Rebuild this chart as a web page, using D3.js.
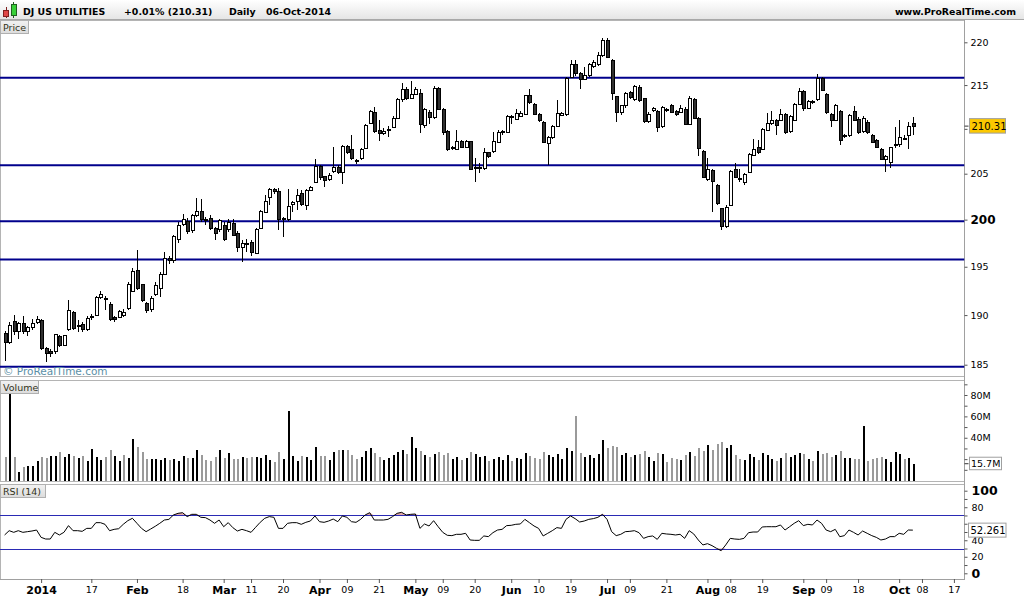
<!DOCTYPE html>
<html><head><meta charset="utf-8">
<script src="https://cdn.jsdelivr.net/npm/d3@7/dist/d3.min.js"></script>
<style>
body{margin:0;background:#fff;}
svg{display:block;font-family:"DejaVu Sans",Verdana,sans-serif;}
</style></head><body>
<svg id="c" width="1024" height="600"></svg>
<script>
// ---------------- DATA ----------------
const openP=[188.1,187.2,189.3,188.3,189.1,188.3,188.7,189.2,189.4,186.6,
186.3,186.3,187.8,186.9,188.5,190.3,188.9,189.0,188.5,189.8,
190.0,191.85,191.75,191.1,189.8,189.75,190.0,190.7,192.45,194.65,
193.1,191.2,190.55,192.15,192.75,194.2,195.9,195.7,197.85,199.5,
199.8,198.8,200.45,200.9,200.05,200.1,199.0,198.9,199.4,198.9,
199.6,198.55,197.05,197.5,197.55,196.4,199.05,200.8,202.4,203.3,
203.1,200.0,200.05,201.65,201.95,202.85,201.55,203.2,204.05,205.8,
204.65,204.4,205.25,205.7,205.15,208.0,207.65,206.5,206.65,207.75,
210.6,211.9,209.85,209.5,209.95,210.15,211.2,213.35,214.5,213.45,
213.95,214.05,210.35,211.9,211.3,214.55,212.2,209.7,207.95,207.7,
208.6,207.95,208.55,205.6,205.7,205.6,207.3,207.45,208.45,209.7,
209.6,211.35,211.1,211.45,211.65,213.8,212.8,211.65,210.75,208.3,
209.05,210.3,211.55,211.6,215.85,217.4,216.35,215.7,216.1,217.15,
217.35,218.4,220.25,217.9,213.65,211.8,212.6,214.15,213.35,214.75,
213.4,210.8,212.1,212.0,210.25,212.2,212.6,211.95,211.9,212.25,
210.5,213.3,211.2,207.5,204.35,205.4,203.75,201.2,199.3,201.55,
205.5,204.45,204.05,205.15,207.05,207.95,207.7,209.85,210.55,210.95,
210.95,211.65,209.7,210.95,212.8,214.3,212.35,213.0,213.35,215.8,
213.95,211.65,210.95,211.95,209.1,209.2,211.95,211.1,209.65,210.75,
209.3,208.7,207.7,206.6,206.2,208.1,208.2,208.9,209.3,210.6];
const highP=[188.4,189.3,190.0,189.3,189.9,188.9,189.6,189.9,189.6,186.8,
186.6,188.1,188.0,188.0,191.55,190.4,189.45,189.3,189.9,190.1,
192.0,192.5,192.0,191.3,189.9,190.5,190.6,193.4,194.9,196.8,
193.2,191.3,191.95,193.4,194.45,196.55,196.1,198.35,199.75,200.6,
200.2,200.6,202.35,202.2,200.3,200.5,199.2,200.1,199.75,200.1,
200.1,198.8,197.8,197.9,197.8,199.1,201.05,202.65,203.4,203.4,
203.4,200.3,203.3,202.0,203.3,203.2,203.3,203.65,206.6,205.95,
204.75,205.1,208.0,206.0,208.2,208.2,209.3,206.6,207.85,210.55,
212.15,212.5,211.0,210.1,210.3,211.45,213.5,215.2,214.8,215.5,
214.8,214.6,212.35,212.15,214.9,214.8,212.35,209.85,208.1,209.85,
208.75,208.75,208.65,206.7,206.2,207.85,207.4,209.6,209.85,209.85,
211.55,211.55,212.25,212.0,213.9,214.6,212.9,211.8,210.9,209.2,
210.4,213.3,211.9,215.95,217.9,217.9,216.5,217.1,217.6,217.9,
218.9,220.55,220.5,218.0,213.75,212.7,214.2,214.3,215.0,215.0,
213.55,211.9,212.5,212.15,212.6,212.35,212.8,212.15,212.7,212.5,
213.7,213.55,211.35,207.65,206.7,205.5,203.85,201.3,201.55,205.4,
206.2,205.5,205.1,207.3,208.9,208.75,210.1,211.8,212.0,211.1,
212.2,211.8,211.55,212.9,214.65,214.45,213.3,213.3,216.3,215.95,
214.1,211.8,212.8,212.15,209.4,211.65,212.55,211.35,211.45,211.0,
209.4,208.85,207.85,207.05,208.0,210.2,210.95,209.3,210.75,211.3];
const lowP=[185.4,187.1,188.0,187.6,188.1,187.9,188.5,189.1,186.5,185.3,
185.8,186.1,186.8,186.9,188.4,188.5,188.3,188.3,188.4,189.5,
189.9,191.7,190.5,189.4,189.3,189.7,189.8,190.5,192.4,192.6,
191.3,190.2,190.35,191.95,191.85,194.1,195.3,195.4,197.5,199.3,
198.45,198.6,200.3,199.8,199.4,198.9,197.8,198.7,197.7,198.7,
198.25,196.55,195.45,196.6,196.1,196.3,198.95,200.7,201.6,202.8,
198.9,198.1,199.9,200.8,201.0,201.45,201.05,203.1,204.0,204.3,
203.5,204.2,205.1,205.0,203.9,207.15,206.5,206.1,206.5,207.7,
210.5,209.5,208.65,209.3,209.1,210.1,211.1,213.1,213.3,213.4,
213.8,209.5,210.1,210.5,211.1,212.15,209.3,207.5,207.6,207.6,
207.8,207.8,205.4,204.1,205.1,205.4,206.7,207.3,208.4,209.3,
209.5,210.5,211.0,211.3,211.55,212.8,211.55,210.8,208.4,205.95,
208.9,210.2,211.4,211.5,215.8,216.0,214.6,215.6,215.9,217.0,
217.2,218.25,218.1,213.3,210.8,211.6,212.4,213.4,213.15,213.05,
210.65,210.65,211.9,209.7,210.1,211.9,211.8,211.45,211.8,210.4,
210.4,211.1,207.0,204.5,204.2,200.85,201.55,198.85,199.1,201.45,
204.5,204.1,203.75,205.05,206.95,207.15,207.6,209.75,210.4,209.3,
210.85,209.4,209.5,210.85,212.7,212.0,212.2,212.8,213.2,214.3,
211.7,210.2,210.85,208.2,208.95,209.05,210.85,209.4,209.5,209.4,
208.4,207.85,206.5,205.2,205.6,207.9,207.95,208.7,207.75,209.3];
const closeP=[187.2,188.9,188.3,189.1,188.3,188.7,189.1,189.5,186.6,186.1,
186.15,188.0,186.9,187.9,190.5,188.6,188.8,188.5,189.7,189.9,
191.85,192.1,191.6,189.5,189.55,190.4,190.3,193.1,194.55,192.7,
191.5,190.5,191.75,193.0,194.2,195.9,195.65,198.15,199.4,200.05,
198.7,200.45,200.85,200.0,199.9,199.0,198.5,199.9,197.9,199.7,
198.35,197.05,197.45,197.4,196.5,198.95,200.85,201.95,203.3,203.0,
200.05,200.1,201.45,201.9,202.6,201.65,203.2,203.5,205.8,204.6,
204.3,204.85,205.7,205.15,208.0,207.4,206.65,206.3,207.7,210.4,
212.0,209.7,209.5,209.75,209.85,211.2,213.35,214.5,213.45,213.95,
214.5,210.5,212.15,211.25,214.55,212.2,209.55,207.7,207.75,208.6,
207.95,208.6,205.5,205.7,205.7,207.3,206.95,208.55,209.6,209.75,
211.35,211.3,211.7,211.7,213.75,213.0,211.65,210.9,208.5,209.05,
210.3,211.7,211.7,215.8,217.4,216.3,215.7,216.1,217.4,217.65,
218.5,220.25,218.2,214.0,211.9,212.6,214.05,213.55,214.8,213.25,
210.8,211.65,212.35,210.2,212.45,212.15,211.9,211.65,212.35,210.5,
213.4,211.2,207.85,204.55,205.45,204.1,201.75,199.25,201.35,205.2,
204.6,204.4,204.95,207.15,207.7,207.4,209.95,210.55,210.95,210.4,
211.65,209.55,211.4,212.8,214.3,212.35,213.15,213.1,215.8,214.4,
211.8,210.95,212.65,208.7,209.3,211.5,210.95,209.55,211.2,209.55,
208.5,207.95,206.6,206.9,207.9,208.2,209.0,208.95,210.29,210.31];
const volumeM=[22.3,82,22.3,8,12.3,13.6,13.6,18.2,21.7,21,
23,23,26.7,22,24.5,23,21,23,18.2,29.2,
22,19.2,22,28.5,23,18.2,23.9,20.8,38.8,31.3,
26.7,19.8,19.8,19.8,19.2,21,19.2,20,18.2,23,
21,21,28.5,23.9,19.2,18.2,22,28.5,21,25.7,
20,20,22,21,22,22,21,23.9,19.2,17.3,
26.7,20,65,23,18.2,23,22,19.2,31.3,23,
23,19.2,26.7,28.5,28.5,28.5,24,20,22,28,
30,26,22,19,21,24,27,29,25,41,
30,28,24,22,25,27,24,26,20,22,
19,21,27,25,22,23,18,20,22,19,
24,18,21,20,26,23,21,20,27,24,
22,25,20,30,28,60,26,22,24,21,
25,38,30,32,31,24,26,22,24,25,
28,22,18,26,25,17,21,20,19,24,
27,23,30,28,33,29,34,36,30,33,
24,20,19,25,22,19,26,24,20,18,
21,26,22,24,26,25,20,18,28,25,
26,22,24,28,21,20.8,20,20,51,18.5,
19.7,21,22,20,17.3,26.7,25,20,21,15.7];
const rsi14=[46.4,51.6,49.6,51.6,49.6,50.4,51.2,52.4,43.5,41.5,
41.5,49.6,46.4,49.6,57.7,51.6,51.6,50.8,54.4,54.4,
61.3,61.3,59.3,51.6,53.2,54.0,59.3,63.7,66.6,60.5,
54.4,50.4,53.6,56.9,60.5,64.5,65.3,70.6,72.6,73.4,
68.6,71.4,71.4,67.8,67.4,64.5,60.5,64.5,56.4,61.3,
55.3,51.2,53.2,51.6,49.6,55.7,61.7,66.6,68.6,67.8,
54.4,54.4,60.5,61.3,61.3,59.3,61.7,63.3,69.4,62.5,
61.7,63.3,65.7,62.5,69.4,67.8,62.5,61.7,65.3,70.6,
73.4,64.5,64.5,64.5,65.3,68.6,72.6,73.8,70.6,71.4,
71.8,54.4,59.7,57.3,63.7,56.4,49.6,46.0,45.6,47.2,
47.2,48.4,40.3,39.9,39.9,45.2,44.4,49.2,52.4,53.2,
57.7,58.1,59.3,59.7,65.3,61.3,57.3,54.4,45.2,48.4,
51.6,55.3,54.4,65.3,69.4,66.2,62.1,63.3,65.3,66.2,
67.8,71.4,65.3,50.4,45.6,47.2,50.4,50.8,51.6,49.2,
42.3,44.4,45.2,41.1,48.4,47.6,47.2,46.4,47.2,42.3,
51.6,47.6,40.3,34.3,35.9,33.5,30.2,27.4,34.3,42.3,
41.5,41.1,42.3,49.2,50.0,50.0,56.1,56.4,56.4,56.4,
58.5,52.4,56.4,60.5,63.7,57.7,59.3,58.5,64.5,60.5,
52.4,50.4,53.2,44.3,45.6,52.4,49.6,46.4,51.2,48.4,
45.6,43.5,40.3,41.5,44.4,44.4,48.4,47.2,52.4,52.261];
const priceTicks=[185,190,195,200,205,210,215,220];
const priceHidden=[210];           // label hidden behind the last-price box
const levelLines=[215.85,205.93,199.83,195.75,184.8];
const volTicks=[20,40,60,80];
const volHidden=[20];
const volMinor=[10,30,50,70,90];
const rsiTicks=[0,20,40,60,80,100];
const rsiHidden=[60];
const rsiMinor=[10,30,50,70,90];
const rsiBands=[70,30];
const dateTicks=[["2014-01-02","2014",1],["2014-01-17","17",0],["2014-02-03","Feb",1],["2014-02-18","18",0],
["2014-03-03","Mar",1],["2014-03-11","11",0],["2014-03-20","20",0],["2014-04-01","Apr",1],["2014-04-09","09",0],
["2014-04-21","21",0],["2014-05-01","May",1],["2014-05-09","09",0],["2014-05-20","20",0],["2014-06-02","Jun",1],
["2014-06-10","10",0],["2014-06-19","19",0],["2014-07-01","Jul",1],["2014-07-09","09",0],["2014-07-21","21",0],
["2014-08-01","Aug",1],["2014-08-08","08",0],["2014-08-19","19",0],["2014-09-02","Sep",1],["2014-09-09","09",0],
["2014-09-18","18",0],["2014-10-01","Oct",1],["2014-10-08","08",0],["2014-10-17","17",0]];
const holidays=["2013-12-25","2014-01-01","2014-01-20","2014-02-17","2014-04-18","2014-05-26","2014-07-04","2014-09-01"];
const title={name:"DJ US UTILITIES",chg:"+0.01% (210.31)",period:"Daily",date:"06-Oct-2014"};
const lastVol="15.7M", lastRsi="52.261";

// ---------------- trading-day calendar ----------------
const hol=new Set(holidays);
const days=[];
for(let d=new Date(Date.UTC(2013,11,19)); d<=new Date(Date.UTC(2014,9,21)); d.setUTCDate(d.getUTCDate()+1)){
  const w=d.getUTCDay(), s=d.toISOString().slice(0,10);
  if(w>0&&w<6&&!hol.has(s)) days.push(s);
}
const candles=openP.map((o,i)=>({date:days[i],o,h:highP[i],l:lowP[i],c:closeP[i],v:volumeM[i],r:rsi14[i],
  up:i===0?false:closeP[i]>=closeP[i-1]}));

// ---------------- layout ----------------
const W=1024, AX=964.5;
const P={top:20,bottom:376}, V={top:379.5,bottom:481}, R={top:484,bottom:579};
const svg=d3.select("#c");
const x=d3.scalePoint().domain(days).range([4.6,4.6+4.564*(days.length-1)]);
const yP=d3.scaleLog().domain([185,220]).range([364.7,42.3]);
const yV=d3.scaleLinear().domain([0,80]).range([480.5,395]);
const yR=d3.scaleLinear().domain([0,100]).range([573.3,490.7]);

const defs=svg.append("defs");
const g1=defs.append("linearGradient").attr("id","hdr").attr("x1",0).attr("y1",0).attr("x2",0).attr("y2",1);
g1.append("stop").attr("offset","0").attr("stop-color","#ffffff");
g1.append("stop").attr("offset","1").attr("stop-color","#e4e4e4");
const g2=defs.append("linearGradient").attr("id","lbl").attr("x1",0).attr("y1",0).attr("x2",0).attr("y2",1);
g2.append("stop").attr("offset","0").attr("stop-color","#f2f2f2");
g2.append("stop").attr("offset","1").attr("stop-color","#dcdcdc");
[["cP",P],["cV",V],["cR",R]].forEach(([id,b])=>{
  defs.append("clipPath").attr("id",id).append("rect").attr("x",0).attr("y",b.top).attr("width",AX).attr("height",b.bottom-b.top);
});

svg.append("rect").attr("width",W).attr("height",600).attr("fill","#fff");

// header
svg.append("rect").attr("x",0).attr("y",0).attr("width",W).attr("height",20).attr("fill","url(#hdr)");
svg.append("line").attr("x1",0).attr("x2",W).attr("y1",19.5).attr("y2",19.5).attr("stroke","#a8a8a8");
const ic=svg.append("g").attr("shape-rendering","crispEdges");
ic.append("line").attr("x1",6.5).attr("x2",6.5).attr("y1",7).attr("y2",18).attr("stroke","#802020");
ic.append("rect").attr("x",3.5).attr("y",10.5).attr("width",5).attr("height",6).attr("fill","#e04848").attr("stroke","#802020");
ic.append("line").attr("x1",13.5).attr("x2",13.5).attr("y1",2).attr("y2",18).attr("stroke","#206020");
ic.append("rect").attr("x",11.5).attr("y",4.5).attr("width",5).attr("height",11).attr("fill","#38d038").attr("stroke","#206020");
const ht=svg.append("g").attr("font-weight","bold").attr("font-size","9.4px").attr("fill","#000");
ht.append("text").attr("x",23).attr("y",14.5).text(title.name);
ht.append("text").attr("x",124).attr("y",14.5).text(title.chg);
ht.append("text").attr("x",229).attr("y",14.5).text(title.period);
ht.append("text").attr("x",266).attr("y",14.5).text(title.date);
ht.append("text").attr("x",1016).attr("y",14.5).attr("text-anchor","end").text("www.ProRealTime.com");

// panel frames
const fr=svg.append("g").attr("fill","none").attr("stroke","#b4b4b4").attr("shape-rendering","crispEdges");
[[P.top,P.bottom],[V.top,V.bottom],[R.top,R.bottom]].forEach(([t,b])=>{
  fr.append("rect").attr("x",0.5).attr("y",t+0.5).attr("width",AX-0.5).attr("height",b-t);
});
svg.append("line").attr("x1",AX).attr("x2",AX).attr("y1",20).attr("y2",R.bottom).attr("stroke","#a0a0a0").attr("shape-rendering","crispEdges");
svg.append("line").attr("x1",0).attr("x2",AX).attr("y1",R.bottom+0.5).attr("y2",R.bottom+0.5).attr("stroke","#a0a0a0").attr("shape-rendering","crispEdges");

// ----- price panel -----
const pg=svg.append("g").attr("clip-path","url(#cP)");
pg.selectAll("line.lvl").data(levelLines).join("line").attr("class","lvl")
  .attr("x1",0).attr("x2",AX).attr("y1",d=>yP(d)).attr("y2",d=>yP(d))
  .attr("stroke","#00008c").attr("stroke-width",2);
const cg=pg.append("g").attr("shape-rendering","crispEdges");
cg.selectAll("line.w").data(candles).join("line").attr("class","w")
  .attr("x1",d=>Math.round(x(d.date))+0.5).attr("x2",d=>Math.round(x(d.date))+0.5)
  .attr("y1",d=>yP(d.h)).attr("y2",d=>yP(d.l)).attr("stroke","#000");
cg.selectAll("rect.b").data(candles).join("rect").attr("class","b")
  .attr("x",d=>Math.round(x(d.date))-1)
  .attr("y",d=>yP(Math.max(d.o,d.c)))
  .attr("width",3)
  .attr("height",d=>Math.max(1,Math.abs(yP(d.o)-yP(d.c))))
  .attr("fill",d=>d.c>=d.o?"#fff":"#303030").attr("stroke","#000");
svg.append("text").attr("x",3).attr("y",374.5).attr("font-size","10.5px").attr("fill","#5b8fa6").text("© ProRealTime.com");

function styleAxis(g,hidden,boldSet,boldSize){
  g.select(".domain").remove();
  g.selectAll("line").attr("stroke","#555");
  g.selectAll("text").attr("font-family","DejaVu Sans").attr("font-size","9.5px").attr("fill","#000");
  g.selectAll(".tick").filter(d=>hidden.includes(d)).select("text").remove();
  g.selectAll(".tick").filter(d=>boldSet.includes(d)).select("text").attr("font-weight","bold").attr("font-size",boldSize);
}
// price axis
const pa=svg.append("g").attr("transform",`translate(${AX},0)`)
  .call(d3.axisRight(yP).tickValues(priceTicks).tickSize(3).tickPadding(3).tickFormat(d3.format("d")));
styleAxis(pa,priceHidden,[200],"12px");
// last price box
const lp=closeP[closeP.length-1];
svg.append("line").attr("x1",AX).attr("x2",AX+4).attr("y1",yP(lp)).attr("y2",yP(lp)).attr("stroke","#333");
svg.append("rect").attr("x",969.5).attr("y",yP(lp)-7.5).attr("width",36).attr("height",14.5).attr("fill","#fcc800").attr("stroke","#a0a0a0");
svg.append("text").attr("x",971.5).attr("y",yP(lp)+3.6).attr("font-size","10px").attr("fill","#000").text(lp.toFixed(2));

// ----- volume panel -----
const vg=svg.append("g").attr("clip-path","url(#cV)").attr("shape-rendering","crispEdges");
vg.selectAll("rect").data(candles).join("rect")
  .attr("x",d=>Math.round(x(d.date))-0.5).attr("width",2.5)
  .attr("y",d=>yV(d.v)).attr("height",d=>yV(0)-yV(d.v))
  .attr("fill",d=>d.up?"#000":"#9a9a9a");
const va=svg.append("g").attr("transform",`translate(${AX},0)`)
  .call(d3.axisRight(yV).tickValues(volTicks).tickSize(3).tickPadding(3).tickFormat(d=>d+"M"));
styleAxis(va,volHidden,[],"9.5px");
svg.append("g").attr("transform",`translate(${AX},0)`).call(d3.axisRight(yV).tickValues(volMinor).tickSize(3).tickFormat(""))
  .call(g=>{g.select(".domain").remove();g.selectAll("line").attr("stroke","#555");});
const lv=volumeM[volumeM.length-1];
svg.append("line").attr("x1",AX).attr("x2",AX+4).attr("y1",yV(lv)).attr("y2",yV(lv)).attr("stroke","#333");
svg.append("rect").attr("x",969.5).attr("y",yV(lv)-6.5).attr("width",32).attr("height",12.5).attr("fill","#fff").attr("stroke","#a0a0a0");
svg.append("text").attr("x",971).attr("y",yV(lv)+3.5).attr("font-size","9.5px").attr("fill","#000").text(lastVol);

// ----- RSI panel -----
const rg=svg.append("g").attr("clip-path","url(#cR)");
rg.append("path").datum(candles).attr("fill","#e2aaaa")
  .attr("d",d3.area().x(d=>x(d.date)).y0(yR(70)).y1(d=>yR(Math.max(d.r,70))));
rg.append("path").datum(candles).attr("fill","#e2aaaa")
  .attr("d",d3.area().x(d=>x(d.date)).y0(yR(30)).y1(d=>yR(Math.min(d.r,30))));
rg.selectAll("line.band").data(rsiBands).join("line").attr("class","band")
  .attr("x1",0).attr("x2",AX).attr("y1",d=>Math.round(yR(d))+0.5).attr("y2",d=>Math.round(yR(d))+0.5)
  .attr("stroke","#2a2ab4").attr("stroke-width",1);
rg.append("path").datum(candles).attr("fill","none").attr("stroke","#000").attr("stroke-width",1)
  .attr("d",d3.line().x(d=>x(d.date)).y(d=>yR(d.r)));
const ra=svg.append("g").attr("transform",`translate(${AX},0)`)
  .call(d3.axisRight(yR).tickValues(rsiTicks).tickSize(3).tickPadding(4).tickFormat(d3.format("d")));
styleAxis(ra,rsiHidden,[0,100],"12.5px");
svg.append("g").attr("transform",`translate(${AX},0)`).call(d3.axisRight(yR).tickValues(rsiMinor).tickSize(3).tickFormat(""))
  .call(g=>{g.select(".domain").remove();g.selectAll("line").attr("stroke","#555");});
const lr=rsi14[rsi14.length-1];
svg.append("rect").attr("x",968.5).attr("y",yR(lr)-7).attr("width",37.5).attr("height",14).attr("fill","#fff").attr("stroke","#a0a0a0");
svg.append("text").attr("x",970.5).attr("y",yR(lr)+4).attr("font-size","10px").attr("fill","#000").text(lastRsi);

// ----- x axis -----
const xa=svg.append("g").attr("transform",`translate(0,${R.bottom})`)
  .call(d3.axisBottom(x).tickValues(dateTicks.map(d=>d[0])).tickSize(4).tickPadding(4)
    .tickFormat(d=>dateTicks.find(t=>t[0]===d)[1]));
xa.select(".domain").remove();
xa.selectAll("line").attr("stroke","#555");
xa.selectAll("text").attr("font-family","DejaVu Sans").attr("fill","#000")
  .attr("font-size",d=>dateTicks.find(t=>t[0]===d)[2]?"11px":"9.5px")
  .attr("font-weight",d=>dateTicks.find(t=>t[0]===d)[2]?"bold":"normal")
  .attr("y",7).attr("dy","0.71em");

// panel labels
function label(yy,w,txt){
  svg.append("rect").attr("x",0.5).attr("y",yy+0.5).attr("width",w).attr("height",13).attr("fill","url(#lbl)").attr("stroke","#b0b0b0");
  svg.append("text").attr("x",3).attr("y",yy+11).attr("font-size","9.5px").attr("fill","#333320").text(txt);
}
label(20,28,"Price");
label(380,38,"Volume");
label(484,45,"RSI (14)");
</script>
</body></html>
